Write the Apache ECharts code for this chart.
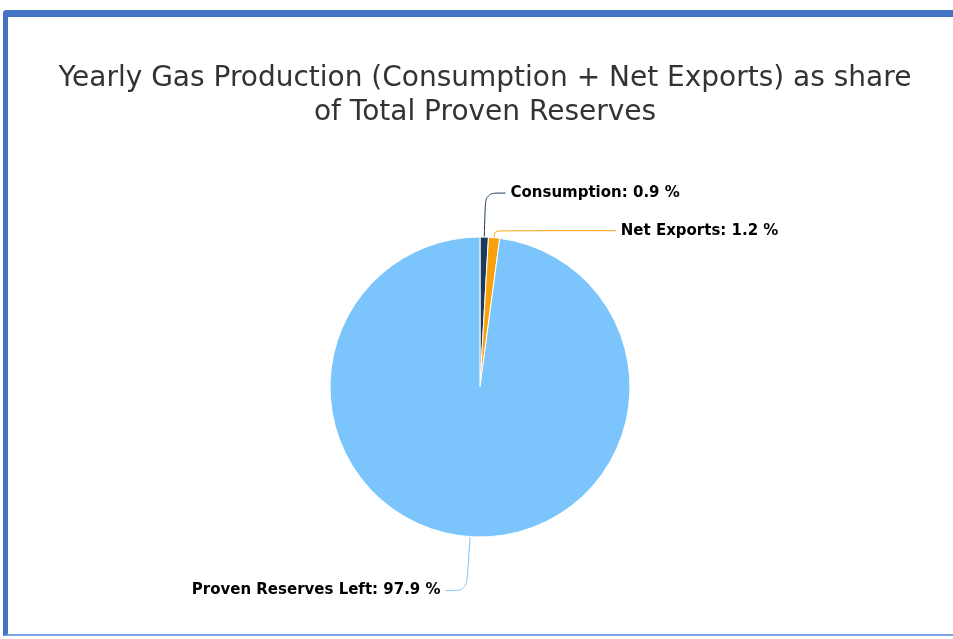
<!DOCTYPE html>
<html>
<head>
<meta charset="utf-8">
<script src="https://cdn.jsdelivr.net/npm/echarts@6/dist/echarts.min.js"></script>
<style>
html,body{margin:0;padding:0;background:#fff;overflow:hidden;}
#chart{position:absolute;left:0;top:0;width:953px;height:639px;}
#frame{position:absolute;left:3px;top:10px;width:970px;height:626px;border-top:7px solid #4472c4;border-left:5px solid #4472c4;border-bottom:2px solid #7ca2e3;border-top-left-radius:4px;pointer-events:none;box-sizing:border-box;}
</style>
</head>
<body>
<div id="chart"></div>
<div id="frame"></div>
<script>
var titleLines = ['Yearly Gas Production (Consumption + Net Exports) as share', 'of Total Proven Reserves'];
var categories = ['Consumption', 'Net Exports', 'Proven Reserves Left'];
var shares = [0.9, 1.2, 97.9];
var colors = ['#1b3b5d', '#f9a10c', '#7cc5fc'];
var lineLengths = [[44, 20], [7, 121], [54, 21]];

var chart = echarts.init(document.getElementById('chart'), null, {renderer: 'canvas'});
var data = categories.map(function (c, i) {
  return {
    name: c,
    value: shares[i],
    itemStyle: {color: colors[i]},
    labelLine: {length: lineLengths[i][0], length2: lineLengths[i][1], lineStyle: {color: colors[i], width: 1}}
  };
});
chart.setOption({
  animation: false,
  title: {
    text: titleLines.join('\n'),
    left: 480,
    top: 57,
    textAlign: 'center',
    textStyle: {fontFamily: 'DejaVu Sans', fontSize: 28, fontWeight: 'normal', color: '#333333', lineHeight: 34}
  },
  series: [{
    type: 'pie',
    center: [480, 387],
    radius: 150,
    startAngle: 90,
    clockwise: true,
    avoidLabelOverlap: false,
    data: data,
    itemStyle: {borderColor: '#ffffff', borderWidth: 1},
    label: {
      formatter: '{b}: {c} %',
      fontFamily: 'DejaVu Sans',
      fontWeight: 'bold',
      fontSize: 15,
      color: '#000000'
    },
    labelLine: {smooth: 0.3}
  }]
});
</script>
</body>
</html>
